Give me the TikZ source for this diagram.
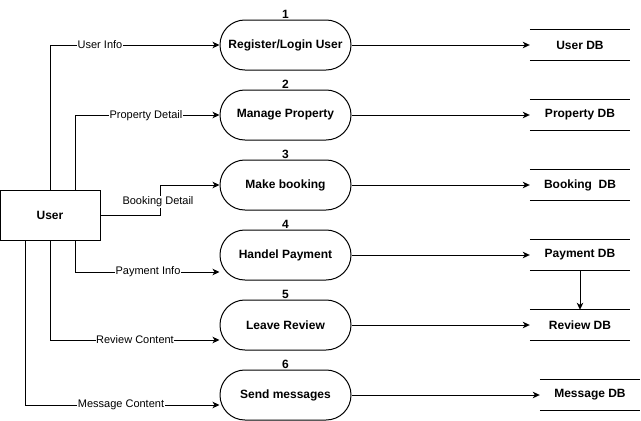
\documentclass[tikz,border=0pt]{standalone}
\usepackage{fontspec}
\setmainfont{Liberation Sans}
\usetikzlibrary{arrows.meta,positioning}
\tikzset{
  proc/.style={draw, line width=1pt, rounded corners=24.9pt, minimum width=131pt, minimum height=50pt, inner sep=0pt, font=\fontsize{12}{14}\selectfont\bfseries},
  ent/.style={draw, line width=1pt, minimum width=100pt, minimum height=50pt, inner sep=0pt, font=\fontsize{12}{14}\selectfont\bfseries},
  store/.style={minimum width=100pt, minimum height=30pt, inner sep=0pt, font=\fontsize{12}{14}\selectfont\bfseries},
  num/.style={anchor=south, inner sep=0.8pt, font=\fontsize{12}{14}\selectfont\bfseries},
  lbl/.style={fill=white, inner sep=0.5pt, font=\fontsize{11}{13}\selectfont},
  flow/.style={line width=1pt, -{Stealth[length=7pt,width=6.5pt,inset=2pt]}},
  dbline/.style={line width=1pt}
}
\begin{document}
\begin{tikzpicture}[x=1pt,y=-1pt]
\useasboundingbox (0,0) rectangle (641,421);
% entity
\node[ent] (u) at (50,215) {User};
% processes
\node[proc] (p1) at (285.5,45) {Register/Login User};
\node[proc] (p2) at (285.5,115) {Manage Property};
\node[proc] (p3) at (285.5,185) {Make booking};
\node[proc] (p4) at (285.5,255) {Handel Payment};
\node[proc] (p5) at (285.5,325) {Leave Review};
\node[proc] (p6) at (285.5,395) {Send messages};
\node[num] (n1) at (p1.north) {1};
\node[num] (n2) at (p2.north) {2};
\node[num] (n3) at (p3.north) {3};
\node[num] (n4) at (p4.north) {4};
\node[num] (n5) at (p5.north) {5};
\node[num] (n6) at (p6.north) {6};
% data stores
\node[store] (d1) at (580,45) {User DB};
\node[store] (d2) at (580,115) {Property DB};
\node[store] (d3) at (580,185) {Booking\ \ DB};
\node[store] (d4) at (580,255) {Payment DB};
\node[store] (d5) at (580,325) {Review DB};
\node[store] (d6) at (590,395) {Message DB};
\foreach \d in {d1,d2,d3,d4,d5,d6}{
  \draw[dbline] (\d.north west) -- (\d.north east);
  \draw[dbline] (\d.south west) -- (\d.south east);
}
% flows from user
\draw[flow] (u.north) |- (p1.west);
\draw[flow] ([xshift=25pt]u.north) |- (p2.west);
\draw[flow] (u.east) -- ++(60,0) |- (p3.west);
\draw[flow] ([xshift=25pt]u.south) |- ([yshift=-17pt]p4.west);
\draw[flow] (u.south) |- ([yshift=-15pt]p5.west);
\draw[flow] ([xshift=-25pt]u.south) |- ([yshift=-10pt]p6.west);
% labels
\node[lbl] (l1) at (100,45) {User Info};
\node[lbl] (l2) at (146,116) {Property Detail};
\node[lbl] (l3) at (158,202) {Booking Detail};
\node[lbl] (l4) at (148,272) {Payment Info};
\node[lbl] (l5) at (135,340) {Review Content};
\node[lbl] (l6) at (121,405) {Message Content};
% process to stores
\draw[flow] (p1.east) -- (d1.west);
\draw[flow] (p2.east) -- (d2.west);
\draw[flow] (p3.east) -- (d3.west);
\draw[flow] (p4.east) -- (d4.west);
\draw[flow] (p5.east) -- (d5.west);
\draw[flow] (p6.east) -- (d6.west);
\draw[flow] (d4.south) -- (d5.north);
\end{tikzpicture}
\end{document}
